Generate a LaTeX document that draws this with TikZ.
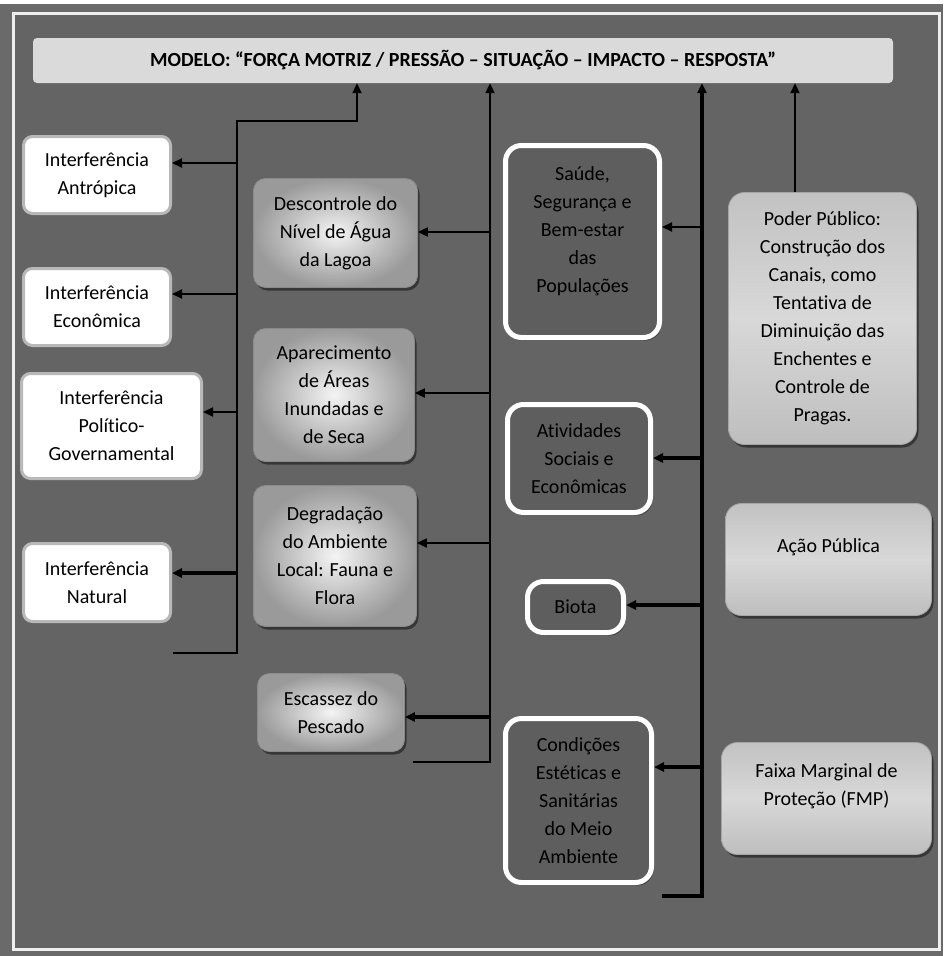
\documentclass[tikz,border=0pt]{standalone}
\usepackage{fontspec}
\setmainfont{Carlito}[Ligatures=NoCommon]
\usetikzlibrary{arrows.meta,shadows}
\definecolor{bgin}{HTML}{646464}
\definecolor{bgout}{HTML}{6A6A6A}
\definecolor{framew}{HTML}{EEEEEE}
\definecolor{wborder}{HTML}{B8B8B8}
\definecolor{gborder}{HTML}{8A8A8A}
\definecolor{ginner}{HTML}{F4F4F4}
\definecolor{gouter}{HTML}{9A9A9A}
\definecolor{dfill}{HTML}{5E5E5E}
\definecolor{ltop}{HTML}{C2C2C2}
\definecolor{lmid}{HTML}{D8D8D8}
\definecolor{lbot}{HTML}{BEBEBE}
\definecolor{lborder}{HTML}{A5A5A5}
\definecolor{tfill}{HTML}{DADADA}
\begin{document}
\begin{tikzpicture}[x=1pt,y=-1pt,
  every node/.style={font=\fontsize{20}{28}\selectfont, text=black, align=center, inner sep=0pt},
  tbox/.style={fill=tfill, rounded corners=4pt},
  wbox/.style={draw=wborder, line width=3pt, fill=white, rounded corners=9pt},
  gbox/.style={draw=gborder, line width=0.8pt, rounded corners=12pt, inner color=ginner, outer color=gouter,
    drop shadow={shadow xshift=2pt,shadow yshift=-3pt,opacity=0.45,fill=black}},
  dbox/.style={draw=white, line width=5pt, fill=dfill, rounded corners=16pt,
    drop shadow={shadow xshift=2pt,shadow yshift=-3pt,opacity=0.35,fill=black}},
  lbox/.style={draw=lborder, line width=0.8pt, rounded corners=16pt, top color=ltop, bottom color=lbot, middle color=lmid,
    drop shadow={shadow xshift=2pt,shadow yshift=-3pt,opacity=0.45,fill=black}},
  lnA/.style={line width=2pt, draw=black},
  lnB/.style={line width=3.5pt, draw=black},
  arr/.style={-{Triangle[length=10pt,width=9pt]}},
]
\useasboundingbox (0,0) rectangle (943,956);
% frame
\fill[bgout] (0,0) rectangle (943,956);
\fill[white] (0,0) rectangle (943,4);
\fill[bgin] (14,14) rectangle (939,949);
\draw[framew, line width=2.5pt] (13.5,13.5) rectangle (939.5,949.5);

% title
\node[tbox, minimum width=860pt, minimum height=45pt] (title) at (463,60.5)
  {\fontsize{20}{24}\selectfont\bfseries MODELO: “FORÇA MOTRIZ / PRESSÃO – SITUAÇÃO – IMPACTO – RESPOSTA”};

% left column
\node[wbox, minimum width=147pt, minimum height=77pt] (ant) at (97,175) {Interferência\\Antrópica};
\node[wbox, minimum width=147pt, minimum height=77pt] (eco) at (97,307) {Interferência\\Econômica};
\node[wbox, minimum width=180pt, minimum height=105pt] (pol) at (111.5,426) {Interferência\\Político-\\Governamental};
\node[wbox, minimum width=147pt, minimum height=78pt] (nat) at (97,582.5) {Interferência\\Natural};

% middle column
\node[gbox, minimum width=164pt, minimum height=109pt] (des) at (335.5,233) {Descontrole do\\Nível de Água\\da Lagoa};
\node[gbox, minimum width=161pt, minimum height=133pt] (apa) at (334,395) {Aparecimento\\de Áreas\\Inundadas e\\de Seca};
\node[gbox, minimum width=163pt, minimum height=141pt] (deg) at (335,556) {Degradação\\do Ambiente\\Local: Fauna e\\Flora};
\node[gbox, minimum width=147pt, minimum height=78pt] (esc) at (331,712.5) {Escassez do\\Pescado};

% dark column
\node[dbox, minimum width=154pt, minimum height=192pt,
  label={[yshift=10pt]center:{Saúde,\\Segurança e\\Bem-estar\\das\\Populações}}] (sau) at (582.5,241.5) {};
\node[dbox, minimum width=143pt, minimum height=108pt] (ati) at (579,458.5) {Atividades\\Sociais e\\Econômicas};
\node[dbox, minimum width=96pt, minimum height=51pt] (bio) at (575.5,607) {Biota};
\node[dbox, minimum width=146pt, minimum height=164pt] (con) at (578.5,800.5) {Condições\\Estéticas e\\Sanitárias\\do Meio\\Ambiente};

% right column
\node[lbox, minimum width=188pt, minimum height=252pt] (pod) at (822.5,318.5)
  {Poder Público:\\Construção dos\\Canais, como\\Tentativa de\\Diminuição das\\Enchentes e\\Controle de\\Pragas.};
\node[lbox, minimum width=206pt, minimum height=112pt,
  label={[yshift=12pt]center:{Ação Pública}}] (aca) at (828.5,559.5) {};
\node[lbox, minimum width=210pt, minimum height=112pt,
  label={[yshift=12pt]center:{Faixa Marginal de\\Proteção (FMP)}}] (fai) at (826.5,798.5) {};

% bus 1
\coordinate (b1e) at (173,653);
\coordinate (b1b) at (237,653);
\coordinate (b1c) at (237,121);
\coordinate (b1t) at (357,121);
\draw[lnA, arr] (b1e) -- (b1b) -- (b1c) -- (b1t) -- (title.south -| b1t);
\coordinate (b1y1) at (237,163);
\coordinate (b1y2) at (237,294);
\coordinate (b1y3) at (237,412);
\coordinate (b1y4) at (237,573);
\draw[lnA, arr] (b1y1) -- (ant.east |- b1y1);
\draw[lnA, arr] (b1y2) -- (eco.east |- b1y2);
\draw[lnA, arr] (b1y3) -- (pol.east |- b1y3);
\draw[lnB, arr] (b1y4) -- (nat.east |- b1y4);

% bus 2
\coordinate (b2e) at (413,762);
\coordinate (b2b) at (490,762);
\draw[lnA, arr] (b2e) -- (b2b) -- (title.south -| b2b);
\coordinate (b2y1) at (490,232);
\coordinate (b2y2) at (490,393);
\coordinate (b2y3) at (490,543);
\coordinate (b2y4) at (490,717);
\draw[lnA, arr] (b2y1) -- (des.east |- b2y1);
\draw[lnA, arr] (b2y2) -- (apa.east |- b2y2);
\draw[lnA, arr] (b2y3) -- (deg.east |- b2y3);
\draw[lnB, arr] (b2y4) -- (esc.east |- b2y4);

% bus 3
\coordinate (b3e) at (662,896);
\coordinate (b3b) at (702,896);
\draw[lnB, arr] (b3e) -- (b3b) -- (title.south -| b3b);
\coordinate (b3y1) at (702,227);
\coordinate (b3y2) at (702,458);
\coordinate (b3y3) at (702,605);
\coordinate (b3y4) at (702,767);
\draw[lnA, arr] (b3y1) -- (sau.east |- b3y1);
\draw[lnB, arr] (b3y2) -- (ati.east |- b3y2);
\draw[lnB, arr] (b3y3) -- (bio.east |- b3y3);
\draw[lnB, arr] (b3y4) -- (con.east |- b3y4);

% bus 4
\coordinate (b4) at (795,192);
\draw[lnA, arr] (pod.north -| b4) -- (title.south -| b4);
\end{tikzpicture}
\end{document}
